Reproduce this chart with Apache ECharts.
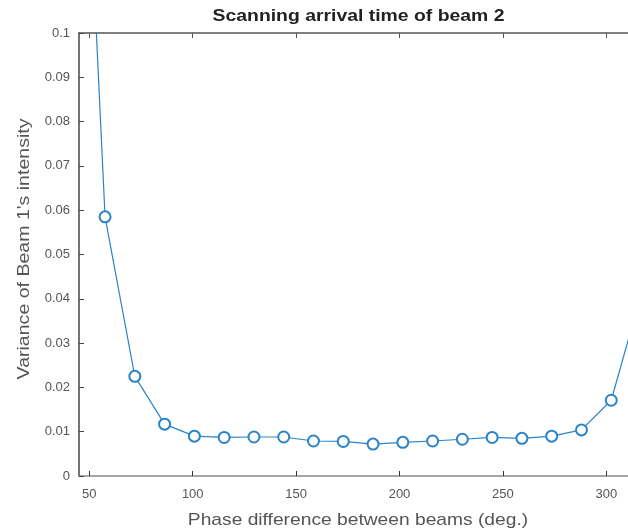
<!DOCTYPE html>
<html>
<head>
<meta charset="utf-8">
<script src="https://cdn.jsdelivr.net/npm/echarts@6/dist/echarts.min.js"></script>
<style>html,body{margin:0;padding:0;background:#fff;}#c{width:628px;height:531px;}</style>
</head>
<body>
<div id="c"></div>
<script>
var titleText = "Scanning arrival time of beam 2";
var xLabel = "Phase difference between beams (deg.)";
var yLabel = "Variance of Beam 1's intensity";
var xTicks = [50, 100, 150, 200, 250, 300];
var phaseDeg = [43.2, 57.6, 72.0, 86.4, 100.8, 115.2, 129.6, 144.0, 158.4, 172.8, 187.2, 201.6, 216.0, 230.4, 244.8, 259.2, 273.6, 288.0, 302.4, 316.8];
var variance = [0.201, 0.0585, 0.0225, 0.0117, 0.0090, 0.0087, 0.0088, 0.0088, 0.0079, 0.0078, 0.0072, 0.0076, 0.0079, 0.0083, 0.0087, 0.0085, 0.0090, 0.0104, 0.0171, 0.041];

var pts = phaseDeg.map(function (x, i) { return [x, variance[i]]; });
var font = 'Liberation Sans, Arial, Helvetica, sans-serif';
var chart = echarts.init(document.getElementById('c'), null, {renderer: 'canvas'});
chart.setOption({
  animation: false,
  backgroundColor: '#ffffff',
  grid: {left: 79, top: 33, right: 0, height: 443, containLabel: false},
  xAxis: [{
    type: 'value', min: 45, max: 310.5, position: 'bottom',
    axisLine: {show: true, onZero: false, lineStyle: {color: '#8a8a8a', width: 1.5}},
    axisTick: {show: true, inside: true, length: 5, customValues: xTicks, lineStyle: {color: '#333', width: 1}},
    axisLabel: {customValues: xTicks, color: '#555', fontSize: 13, fontFamily: font, margin: 12},
    splitLine: {show: false}
  }, {
    type: 'value', min: 45, max: 310.5, position: 'top',
    axisLine: {show: true, onZero: false, lineStyle: {color: '#555', width: 1.5}},
    axisTick: {show: true, inside: true, length: 5, customValues: xTicks, lineStyle: {color: '#555', width: 1}},
    axisLabel: {show: false},
    splitLine: {show: false}
  }],
  yAxis: {
    type: 'value', min: 0, max: 0.1, interval: 0.01,
    axisLine: {show: true, lineStyle: {color: '#444', width: 1.5}},
    axisTick: {show: true, inside: true, length: 5, lineStyle: {color: '#444', width: 1}},
    axisLabel: {color: '#555', fontSize: 13, fontFamily: font, margin: 9,
      formatter: function (v) { return v === 0 ? '0' : String(parseFloat(v.toFixed(3))); }},
    splitLine: {show: false}
  },
  series: [{
    type: 'line', data: pts, xAxisIndex: 0,
    clip: true,
    symbol: 'emptyCircle', symbolSize: 11,
    lineStyle: {color: '#2a84c9', width: 1.2},
    itemStyle: {color: '#2a84c9', borderColor: '#2a84c9', borderWidth: 1.1}
  }],
  graphic: [
    {type: 'text', x: 358.5, y: 16, scaleX: 1.14, style: {text: titleText, fontSize: 17, fontWeight: 'bold', fontFamily: font, fill: '#222', align: 'center', verticalAlign: 'middle'}},
    {type: 'text', x: 358, y: 520, scaleX: 1.13, style: {text: xLabel, fontSize: 17, fontFamily: font, fill: '#555', align: 'center', verticalAlign: 'middle'}},
    {type: 'text', x: 24, y: 249, rotation: Math.PI / 2, scaleX: 1.15, style: {text: yLabel, fontSize: 17, fontFamily: font, fill: '#555', align: 'center', verticalAlign: 'middle'}}
  ]
});
</script>
</body>
</html>
